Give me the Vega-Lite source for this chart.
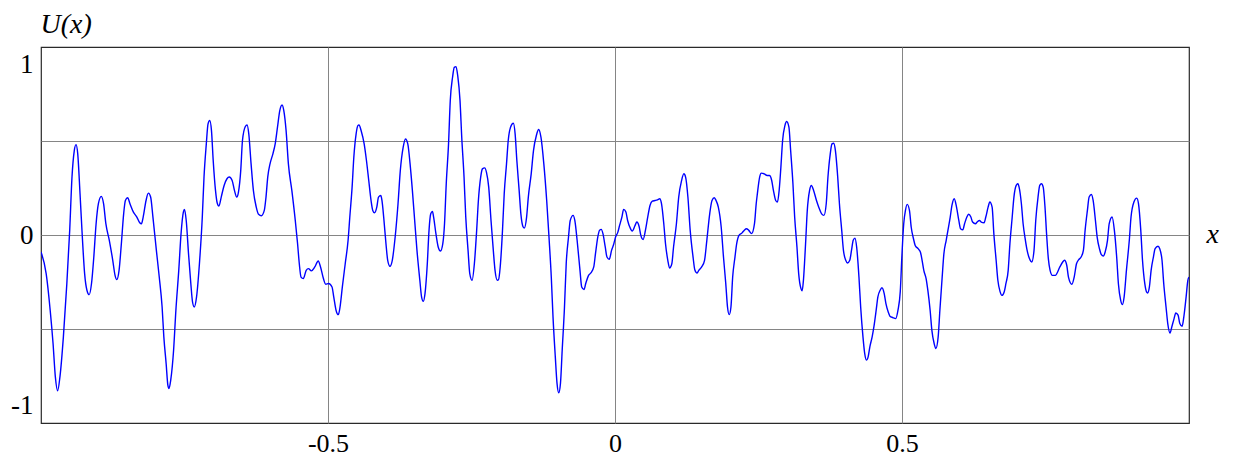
{
"$schema": "https://vega.github.io/schema/vega-lite/v6.json",
"width": 1148, "height": 376,
"autosize": {"type": "none"},
"padding": {"left": 41, "top": 47, "right": 44, "bottom": 34},
"background": "white",
"config": {"view": {"stroke": "#2a2a2a", "strokeWidth": 1.2}},
"data": {"values": [
{"x":-1.0,"u":-0.099},{"x":-0.991,"u":-0.226},{"x":-0.984,"u":-0.440},{"x":-0.979,"u":-0.635},{"x":-0.975,"u":-0.830},{"x":-0.971,"u":-0.911},{"x":-0.967,"u":-0.830},{"x":-0.961,"u":-0.596},{"x":-0.955,"u":-0.285},{"x":-0.950,"u":0.027},{"x":-0.946,"u":0.339},{"x":-0.942,"u":0.494},{"x":-0.939,"u":0.529},{"x":-0.936,"u":0.475},{"x":-0.932,"u":0.241},{"x":-0.928,"u":-0.012},{"x":-0.924,"u":-0.226},{"x":-0.920,"u":-0.323},{"x":-0.916,"u":-0.349},{"x":-0.912,"u":-0.284},{"x":-0.908,"u":-0.129},{"x":-0.904,"u":0.066},{"x":-0.900,"u":0.183},{"x":-0.895,"u":0.226},{"x":-0.891,"u":0.183},{"x":-0.887,"u":0.066},{"x":-0.881,"u":-0.031},{"x":-0.875,"u":-0.148},{"x":-0.871,"u":-0.236},{"x":-0.868,"u":-0.261},{"x":-0.864,"u":-0.207},{"x":-0.860,"u":-0.051},{"x":-0.856,"u":0.124},{"x":-0.853,"u":0.202},{"x":-0.849,"u":0.218},{"x":-0.845,"u":0.183},{"x":-0.839,"u":0.134},{"x":-0.833,"u":0.105},{"x":-0.828,"u":0.072},{"x":-0.825,"u":0.066},{"x":-0.822,"u":0.105},{"x":-0.817,"u":0.202},{"x":-0.813,"u":0.245},{"x":-0.809,"u":0.222},{"x":-0.805,"u":0.105},{"x":-0.799,"u":-0.090},{"x":-0.794,"u":-0.246},{"x":-0.789,"u":-0.421},{"x":-0.786,"u":-0.596},{"x":-0.782,"u":-0.752},{"x":-0.779,"u":-0.878},{"x":-0.777,"u":-0.898},{"x":-0.774,"u":-0.849},{"x":-0.769,"u":-0.674},{"x":-0.765,"u":-0.440},{"x":-0.760,"u":-0.207},{"x":-0.756,"u":0.008},{"x":-0.752,"u":0.134},{"x":-0.750,"u":0.150},
{"x":-0.747,"u":0.085},{"x":-0.743,"u":-0.109},{"x":-0.739,"u":-0.284},{"x":-0.736,"u":-0.392},{"x":-0.733,"u":-0.421},{"x":-0.729,"u":-0.362},{"x":-0.724,"u":-0.168},{"x":-0.719,"u":0.105},{"x":-0.716,"u":0.339},{"x":-0.712,"u":0.533},{"x":-0.709,"u":0.650},{"x":-0.706,"u":0.670},{"x":-0.703,"u":0.611},{"x":-0.700,"u":0.436},{"x":-0.696,"u":0.261},{"x":-0.693,"u":0.187},{"x":-0.690,"u":0.169},{"x":-0.686,"u":0.222},{"x":-0.681,"u":0.290},{"x":-0.676,"u":0.329},{"x":-0.672,"u":0.339},{"x":-0.667,"u":0.319},{"x":-0.663,"u":0.261},{"x":-0.659,"u":0.222},{"x":-0.656,"u":0.251},{"x":-0.652,"u":0.378},{"x":-0.649,"u":0.553},{"x":-0.644,"u":0.635},{"x":-0.641,"u":0.644},{"x":-0.638,"u":0.592},{"x":-0.634,"u":0.416},{"x":-0.630,"u":0.261},{"x":-0.625,"u":0.163},{"x":-0.621,"u":0.121},{"x":-0.616,"u":0.113},{"x":-0.611,"u":0.144},{"x":-0.608,"u":0.222},{"x":-0.605,"u":0.339},{"x":-0.601,"u":0.416},{"x":-0.596,"u":0.475},{"x":-0.592,"u":0.533},{"x":-0.588,"u":0.631},{"x":-0.584,"u":0.728},{"x":-0.580,"u":0.761},{"x":-0.577,"u":0.728},{"x":-0.573,"u":0.611},{"x":-0.569,"u":0.416},{"x":-0.563,"u":0.261},{"x":-0.557,"u":0.085},{"x":-0.553,"u":-0.051},{"x":-0.550,"u":-0.168},{"x":-0.547,"u":-0.246},{"x":-0.543,"u":-0.255},{"x":-0.538,"u":-0.207},{"x":-0.534,"u":-0.197},{"x":-0.529,"u":-0.210},{"x":-0.523,"u":-0.187},{"x":-0.517,"u":-0.152},{"x":-0.513,"u":-0.187},{"x":-0.508,"u":-0.255},{"x":-0.504,"u":-0.288},{"x":-0.499,"u":-0.284},
{"x":-0.493,"u":-0.304},{"x":-0.490,"u":-0.362},{"x":-0.486,"u":-0.440},{"x":-0.482,"u":-0.466},{"x":-0.479,"u":-0.421},{"x":-0.475,"u":-0.304},{"x":-0.470,"u":-0.168},{"x":-0.465,"u":-0.031},{"x":-0.462,"u":0.105},{"x":-0.458,"u":0.280},{"x":-0.455,"u":0.455},{"x":-0.451,"u":0.592},{"x":-0.448,"u":0.640},{"x":-0.446,"u":0.644},{"x":-0.442,"u":0.607},{"x":-0.437,"u":0.533},{"x":-0.433,"u":0.436},{"x":-0.429,"u":0.319},{"x":-0.425,"u":0.202},{"x":-0.422,"u":0.144},{"x":-0.419,"u":0.130},{"x":-0.415,"u":0.163},{"x":-0.412,"u":0.222},{"x":-0.408,"u":0.231},{"x":-0.406,"u":0.202},{"x":-0.403,"u":0.105},{"x":-0.399,"u":-0.051},{"x":-0.396,"u":-0.148},{"x":-0.392,"u":-0.183},{"x":-0.388,"u":-0.148},{"x":-0.383,"u":-0.012},{"x":-0.378,"u":0.183},{"x":-0.374,"u":0.378},{"x":-0.369,"u":0.514},{"x":-0.365,"u":0.562},{"x":-0.361,"u":0.533},{"x":-0.357,"u":0.416},{"x":-0.353,"u":0.261},{"x":-0.349,"u":0.085},{"x":-0.345,"u":-0.090},{"x":-0.340,"u":-0.265},{"x":-0.337,"u":-0.362},{"x":-0.334,"u":-0.388},{"x":-0.331,"u":-0.343},{"x":-0.327,"u":-0.168},{"x":-0.324,"u":0.027},{"x":-0.321,"u":0.124},{"x":-0.318,"u":0.138},{"x":-0.316,"u":0.105},{"x":-0.312,"u":0.008},{"x":-0.308,"u":-0.070},{"x":-0.304,"u":-0.094},{"x":-0.300,"u":-0.051},{"x":-0.297,"u":0.066},{"x":-0.294,"u":0.300},{"x":-0.290,"u":0.533},{"x":-0.287,"u":0.786},{"x":-0.283,"u":0.923},{"x":-0.280,"u":0.981},{"x":-0.277,"u":0.985},{"x":-0.274,"u":0.932},{"x":-0.270,"u":0.786},{"x":-0.267,"u":0.572},{"x":-0.263,"u":0.339},{"x":-0.260,"u":0.105},{"x":-0.256,"u":-0.090},{"x":-0.253,"u":-0.226},{"x":-0.249,"u":-0.265},
{"x":-0.245,"u":-0.168},{"x":-0.241,"u":0.027},{"x":-0.238,"u":0.202},{"x":-0.234,"u":0.339},{"x":-0.231,"u":0.387},{"x":-0.227,"u":0.393},{"x":-0.224,"u":0.368},{"x":-0.220,"u":0.280},{"x":-0.216,"u":0.085},{"x":-0.212,"u":-0.090},{"x":-0.209,"u":-0.207},{"x":-0.205,"u":-0.265},{"x":-0.203,"u":-0.262},{"x":-0.200,"u":-0.187},{"x":-0.196,"u":0.027},{"x":-0.193,"u":0.241},{"x":-0.189,"u":0.416},{"x":-0.186,"u":0.553},{"x":-0.182,"u":0.631},{"x":-0.177,"u":0.654},{"x":-0.174,"u":0.592},{"x":-0.171,"u":0.436},{"x":-0.167,"u":0.261},{"x":-0.164,"u":0.124},{"x":-0.160,"u":0.047},{"x":-0.158,"u":0.041},{"x":-0.154,"u":0.105},{"x":-0.151,"u":0.222},{"x":-0.146,"u":0.358},{"x":-0.142,"u":0.494},{"x":-0.137,"u":0.582},{"x":-0.133,"u":0.617},{"x":-0.129,"u":0.572},{"x":-0.124,"u":0.416},{"x":-0.119,"u":0.202},{"x":-0.115,"u":-0.012},{"x":-0.111,"u":-0.246},{"x":-0.108,"u":-0.479},{"x":-0.104,"u":-0.713},{"x":-0.101,"u":-0.868},{"x":-0.098,"u":-0.923},{"x":-0.095,"u":-0.868},{"x":-0.092,"u":-0.674},{"x":-0.088,"u":-0.421},{"x":-0.085,"u":-0.168},{"x":-0.081,"u":-0.012},{"x":-0.078,"u":0.085},{"x":-0.073,"u":0.115},{"x":-0.070,"u":0.085},{"x":-0.066,"u":-0.031},{"x":-0.061,"u":-0.207},{"x":-0.058,"u":-0.304},{"x":-0.054,"u":-0.319},{"x":-0.051,"u":-0.284},{"x":-0.046,"u":-0.236},{"x":-0.042,"u":-0.222},{"x":-0.037,"u":-0.187},{"x":-0.034,"u":-0.109},{"x":-0.030,"u":-0.012},{"x":-0.027,"u":0.027},{"x":-0.024,"u":0.033},{"x":-0.021,"u":0.008},{"x":-0.017,"u":-0.070},{"x":-0.014,"u":-0.129},{"x":-0.010,"u":-0.142},{"x":-0.006,"u":-0.090},
{"x":-0.002,"u":-0.051},{"x":0.001,"u":-0.012},{"x":0.005,"u":0.017},{"x":0.008,"u":0.056},{"x":0.012,"u":0.105},{"x":0.015,"u":0.150},{"x":0.019,"u":0.134},{"x":0.022,"u":0.085},{"x":0.027,"u":0.037},{"x":0.030,"u":0.023},{"x":0.035,"u":0.056},{"x":0.038,"u":0.076},{"x":0.042,"u":0.050},{"x":0.045,"u":-0.002},{"x":0.049,"u":-0.026},{"x":0.053,"u":0.027},{"x":0.057,"u":0.105},{"x":0.061,"u":0.173},{"x":0.065,"u":0.198},{"x":0.070,"u":0.202},{"x":0.074,"u":0.206},{"x":0.078,"u":0.212},{"x":0.081,"u":0.183},{"x":0.085,"u":0.066},{"x":0.088,"u":-0.051},{"x":0.092,"u":-0.148},{"x":0.095,"u":-0.193},{"x":0.099,"u":-0.168},{"x":0.102,"u":-0.070},{"x":0.107,"u":0.066},{"x":0.111,"u":0.222},{"x":0.116,"u":0.319},{"x":0.120,"u":0.358},{"x":0.123,"u":0.339},{"x":0.127,"u":0.222},{"x":0.131,"u":0.027},{"x":0.136,"u":-0.129},{"x":0.139,"u":-0.203},{"x":0.143,"u":-0.222},{"x":0.146,"u":-0.207},{"x":0.151,"u":-0.187},{"x":0.156,"u":-0.148},{"x":0.160,"u":-0.031},{"x":0.165,"u":0.124},{"x":0.169,"u":0.202},{"x":0.173,"u":0.218},{"x":0.176,"u":0.202},{"x":0.180,"u":0.163},{"x":0.185,"u":0.047},{"x":0.189,"u":-0.129},{"x":0.193,"u":-0.285},{"x":0.196,"u":-0.421},{"x":0.199,"u":-0.466},{"x":0.202,"u":-0.421},{"x":0.205,"u":-0.246},{"x":0.209,"u":-0.129},{"x":0.212,"u":-0.051},{"x":0.216,"u":-0.002},{"x":0.221,"u":0.011},{"x":0.225,"u":0.027},{"x":0.229,"u":0.037},{"x":0.233,"u":0.027},{"x":0.238,"u":0.008},{"x":0.243,"u":0.066},{"x":0.246,"u":0.183},
{"x":0.248,"u":0.241},{"x":0.252,"u":0.339},{"x":0.255,"u":0.362},{"x":0.260,"u":0.358},{"x":0.265,"u":0.348},{"x":0.269,"u":0.348},{"x":0.273,"u":0.319},{"x":0.276,"u":0.261},{"x":0.280,"u":0.202},{"x":0.283,"u":0.193},{"x":0.286,"u":0.261},{"x":0.289,"u":0.397},{"x":0.292,"u":0.553},{"x":0.296,"u":0.640},{"x":0.299,"u":0.664},{"x":0.303,"u":0.631},{"x":0.306,"u":0.494},{"x":0.310,"u":0.300},{"x":0.313,"u":0.105},{"x":0.317,"u":-0.070},{"x":0.320,"u":-0.226},{"x":0.324,"u":-0.314},{"x":0.326,"u":-0.327},{"x":0.328,"u":-0.276},{"x":0.332,"u":-0.051},{"x":0.335,"u":0.144},{"x":0.339,"u":0.261},{"x":0.342,"u":0.290},{"x":0.346,"u":0.261},{"x":0.351,"u":0.202},{"x":0.355,"u":0.163},{"x":0.360,"u":0.124},{"x":0.364,"u":0.115},{"x":0.368,"u":0.183},{"x":0.371,"u":0.339},{"x":0.375,"u":0.475},{"x":0.378,"u":0.533},{"x":0.381,"u":0.537},{"x":0.384,"u":0.494},{"x":0.388,"u":0.339},{"x":0.391,"u":0.183},{"x":0.395,"u":0.027},{"x":0.398,"u":-0.090},{"x":0.402,"u":-0.148},{"x":0.405,"u":-0.164},{"x":0.409,"u":-0.148},{"x":0.412,"u":-0.090},{"x":0.415,"u":-0.031},{"x":0.418,"u":-0.018},{"x":0.421,"u":-0.070},{"x":0.425,"u":-0.246},{"x":0.428,"u":-0.421},{"x":0.432,"u":-0.596},{"x":0.435,"u":-0.693},{"x":0.438,"u":-0.732},{"x":0.441,"u":-0.713},{"x":0.444,"u":-0.654},{"x":0.448,"u":-0.596},{"x":0.451,"u":-0.538},{"x":0.455,"u":-0.440},{"x":0.458,"u":-0.362},{"x":0.462,"u":-0.323},{"x":0.465,"u":-0.309},{"x":0.469,"u":-0.343},{"x":0.472,"u":-0.401},{"x":0.476,"u":-0.450},{"x":0.479,"u":-0.475},{"x":0.484,"u":-0.483},{"x":0.489,"u":-0.489},{"x":0.493,"u":-0.440},{"x":0.497,"u":-0.330},{"x":0.500,"u":-0.110},
{"x":0.503,"u":0.066},{"x":0.506,"u":0.144},{"x":0.509,"u":0.179},{"x":0.513,"u":0.144},{"x":0.516,"u":0.047},{"x":0.520,"u":-0.022},{"x":0.523,"u":-0.061},{"x":0.528,"u":-0.080},{"x":0.532,"u":-0.099},{"x":0.535,"u":-0.148},{"x":0.538,"u":-0.207},{"x":0.542,"u":-0.255},{"x":0.545,"u":-0.323},{"x":0.549,"u":-0.440},{"x":0.552,"u":-0.557},{"x":0.556,"u":-0.635},{"x":0.559,"u":-0.664},{"x":0.563,"u":-0.596},{"x":0.566,"u":-0.440},{"x":0.570,"u":-0.246},{"x":0.573,"u":-0.109},{"x":0.577,"u":-0.031},{"x":0.580,"u":0.027},{"x":0.584,"u":0.105},{"x":0.587,"u":0.173},{"x":0.591,"u":0.212},{"x":0.595,"u":0.163},{"x":0.599,"u":0.085},{"x":0.602,"u":0.037},{"x":0.606,"u":0.031},{"x":0.609,"u":0.066},{"x":0.613,"u":0.105},{"x":0.616,"u":0.121},{"x":0.620,"u":0.105},{"x":0.623,"u":0.076},{"x":0.628,"u":0.066},{"x":0.631,"u":0.076},{"x":0.635,"u":0.085},{"x":0.638,"u":0.076},{"x":0.643,"u":0.072},{"x":0.646,"u":0.105},{"x":0.650,"u":0.163},{"x":0.653,"u":0.193},{"x":0.657,"u":0.163},{"x":0.660,"u":0.008},{"x":0.664,"u":-0.148},{"x":0.667,"u":-0.265},{"x":0.671,"u":-0.333},{"x":0.674,"u":-0.353},{"x":0.678,"u":-0.333},{"x":0.681,"u":-0.285},{"x":0.685,"u":-0.207},{"x":0.688,"u":-0.051},{"x":0.692,"u":0.105},{"x":0.695,"u":0.222},{"x":0.699,"u":0.290},{"x":0.702,"u":0.300},{"x":0.704,"u":0.280},{"x":0.708,"u":0.183},{"x":0.711,"u":0.066},{"x":0.715,"u":-0.031},{"x":0.718,"u":-0.090},{"x":0.722,"u":-0.138},{"x":0.726,"u":-0.158},{"x":0.730,"u":-0.090},{"x":0.733,"u":0.085},{"x":0.737,"u":0.222},{"x":0.740,"u":0.290},{"x":0.743,"u":0.300},{"x":0.746,"u":0.280},{"x":0.749,"u":0.170},
{"x":0.752,"u":0.0},{"x":0.755,"u":-0.140},{"x":0.758,"u":-0.207},{"x":0.762,"u":-0.236},{"x":0.767,"u":-0.236},{"x":0.775,"u":-0.187},{"x":0.780,"u":-0.158},{"x":0.783,"u":-0.148},{"x":0.787,"u":-0.177},{"x":0.790,"u":-0.246},{"x":0.796,"u":-0.288},{"x":0.800,"u":-0.246},{"x":0.804,"u":-0.168},{"x":0.808,"u":-0.144},{"x":0.812,"u":-0.129},{"x":0.816,"u":-0.090},{"x":0.819,"u":0.027},{"x":0.823,"u":0.144},{"x":0.826,"u":0.222},{"x":0.830,"u":0.237},{"x":0.833,"u":0.202},{"x":0.837,"u":0.085},{"x":0.840,"u":-0.012},{"x":0.844,"u":-0.080},{"x":0.847,"u":-0.113},{"x":0.851,"u":-0.123},{"x":0.854,"u":-0.099},{"x":0.858,"u":-0.031},{"x":0.861,"u":0.066},{"x":0.866,"u":0.105},{"x":0.870,"u":0.027},{"x":0.874,"u":-0.129},{"x":0.877,"u":-0.285},{"x":0.881,"u":-0.382},{"x":0.884,"u":-0.407},{"x":0.887,"u":-0.362},{"x":0.891,"u":-0.207},{"x":0.896,"u":-0.031},{"x":0.899,"u":0.105},{"x":0.904,"u":0.193},{"x":0.909,"u":0.216},{"x":0.912,"u":0.183},{"x":0.916,"u":0.027},{"x":0.919,"u":-0.148},{"x":0.923,"u":-0.285},{"x":0.926,"u":-0.333},{"x":0.928,"u":-0.339},{"x":0.931,"u":-0.304},{"x":0.934,"u":-0.207},{"x":0.938,"u":-0.129},{"x":0.941,"u":-0.080},{"x":0.946,"u":-0.066},{"x":0.949,"u":-0.080},{"x":0.953,"u":-0.148},{"x":0.956,"u":-0.285},{"x":0.960,"u":-0.421},{"x":0.963,"u":-0.518},{"x":0.967,"u":-0.573},{"x":0.970,"u":-0.538},{"x":0.974,"u":-0.489},{"x":0.977,"u":-0.456},{"x":0.981,"u":-0.469},{"x":0.984,"u":-0.518},{"x":0.988,"u":-0.534},{"x":0.991,"u":-0.479},{"x":0.995,"u":-0.362},{"x":0.998,"u":-0.265},{"x":1.0,"u":-0.246}
]},
"mark": {"type": "line", "color": "#0000ff", "strokeWidth": 1.4, "interpolate": "monotone", "clip": true},
"encoding": {
"x": {"field": "x", "type": "quantitative",
 "scale": {"domain": [-1, 1], "nice": false, "zero": false},
 "axis": {"values": [-0.5, 0, 0.5], "title": "x", "grid": true, "gridColor": "#858585", "gridWidth": 1,
  "ticks": false, "tickSize": 0, "domain": false, "labelExpr": "'' + datum.value",
  "labelFont": "Liberation Serif, Times New Roman, DejaVu Serif, serif", "labelFontSize": 26, "labelColor": "#000000", "labelPadding": 7,
  "labelBaseline": "top", "labelFlush": false, "labelOverlap": false, "labelBound": false,
  "titleFont": "Liberation Serif, Times New Roman, DejaVu Serif, serif", "titleFontStyle": "italic", "titleFontWeight": "normal", "titleFontSize": 28,
  "titleColor": "#000000", "titleX": 1165, "titleY": -181, "titleAlign": "left", "titleBaseline": "alphabetic"}},
"y": {"field": "u", "type": "quantitative",
 "scale": {"domain": [-1.1, 1.1], "nice": false, "zero": false},
 "axis": {"values": [-1, -0.55, 0, 0.55, 1], "title": "U(x)", "grid": true, "gridColor": "#858585", "gridWidth": 1,
  "gridOpacity": {"condition": {"test": "abs(datum.value) > 0.9", "value": 0}, "value": 1},
  "ticks": false, "tickSize": 0, "domain": false,
  "labelExpr": "abs(datum.value) > 0.5 && abs(datum.value) < 0.9 ? '' : '' + datum.value",
  "labelFont": "Liberation Serif, Times New Roman, DejaVu Serif, serif", "labelFontSize": 27, "labelColor": "#000000", "labelPadding": 8,
  "labelFlush": false, "labelOverlap": false, "labelBound": false,
  "titleFont": "Liberation Serif, Times New Roman, DejaVu Serif, serif", "titleFontStyle": "italic", "titleFontWeight": "normal", "titleFontSize": 28,
  "titleColor": "#000000", "titleAngle": 0, "titleX": -1, "titleY": -15, "titleAlign": "left", "titleBaseline": "alphabetic"}}
}
}
